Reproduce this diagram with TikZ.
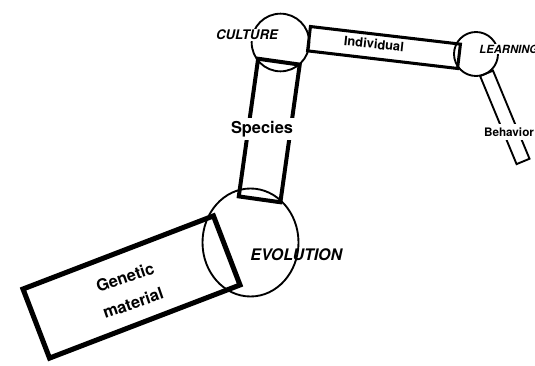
\documentclass[tikz,border=0pt]{standalone}
\usepackage{fontspec}
\setmainfont{TeX Gyre Heros}
\usetikzlibrary{shapes.geometric}
\tikzset{
  joint/.style={draw, circle, inner sep=0pt, line width=1.6pt},
  barbox/.style={draw, rectangle, inner sep=0pt},
  lbl/.style={inner sep=1pt, font=\bfseries},
}
\begin{document}
\begin{tikzpicture}[x=0.03cm, y=-0.03cm]
\clip (0,0) rectangle (535,365);
\useasboundingbox (0,0) rectangle (535,365);
% joints
\node[joint, ellipse, minimum width=2.88cm, minimum height=3.24cm] (evo) at (250.5,242.5) {};
\node[joint, minimum size=1.73cm] (cul) at (280.5,42.5) {};
\node[joint, minimum size=1.32cm] (lea) at (476,54) {};
% bars
\node[barbox, line width=4.3pt, minimum width=6.12cm, minimum height=2.22cm, rotate=21] (gen) at (131.5,287) {};
\node[barbox, line width=3.4pt, minimum width=1.26cm, minimum height=4.17cm, rotate=-8] (spe) at (269.25,130.5) {};
\node[barbox, line width=2.6pt, minimum width=4.53cm, minimum height=0.735cm, rotate=-6.7] (ind) at (384,47.5) {};
\node[barbox, line width=1.6pt, minimum width=2.86cm, minimum height=0.42cm, rotate=-67.5] (beh) at (504.8,117.4) {};
% labels
\node[lbl, rotate=19, font=\bfseries\fontsize{14}{16}\selectfont] (gent) at (125,277.5) {Genetic};
\node[lbl, rotate=19, font=\bfseries\fontsize{14}{16}\selectfont] (matt) at (133,303) {material};
\node[lbl, fill=white, inner sep=3pt, font=\bfseries\fontsize{14}{16}\selectfont] (spet) at (262,129) {Species};
\node[lbl, rotate=-6, font=\bfseries\fontsize{11}{13}\selectfont] (indt) at (374,44) {Individual};
\node[lbl, fill=white, inner sep=3pt, font=\bfseries\fontsize{10}{12}\selectfont] (beht) at (509,132) {Behavior};
\node[lbl, fill=white, font=\bfseries\itshape\fontsize{11.3}{13}\selectfont] (cult) at (247,35) {CULTURE};
\node[lbl, fill=white, anchor=west, font=\bfseries\itshape\fontsize{9.6}{12}\selectfont] (leat) at (478,49) {LEARNING};
\node[lbl, anchor=west, font=\bfseries\itshape\fontsize{13.6}{16}\selectfont] (evot) at (249,255) {EVOLUTION};
\end{tikzpicture}
\end{document}
